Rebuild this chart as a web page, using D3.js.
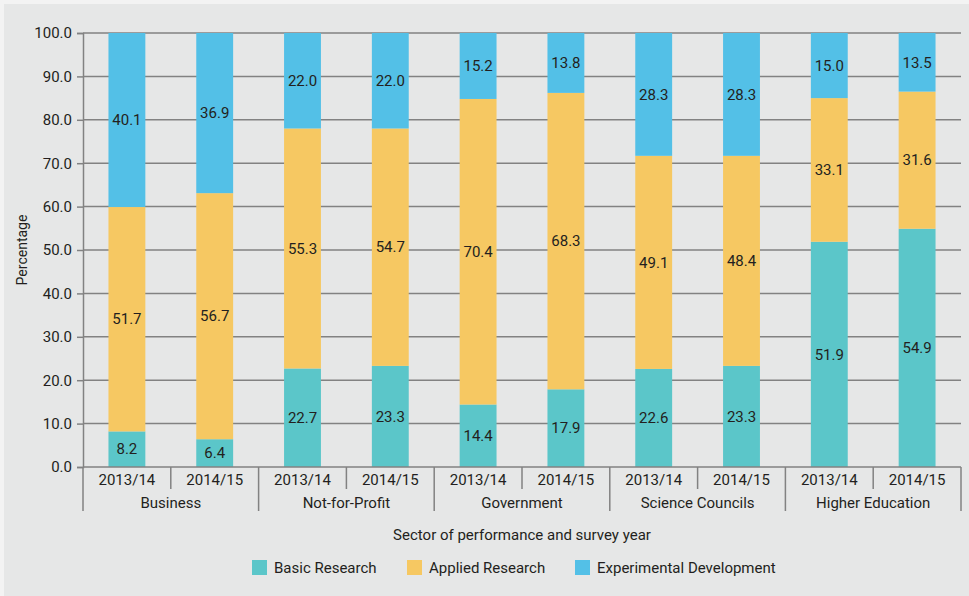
<!DOCTYPE html>
<html>
<head>
<meta charset="utf-8">
<script src="https://cdn.jsdelivr.net/npm/d3@7"></script>
<style>
  body { margin: 0; background: #f3f3f3; }
  text { font-family: Roboto, "Liberation Sans", sans-serif; fill: #231f20; }
</style>
</head>
<body>
<svg id="chart" width="969" height="596"></svg>
<script>
// chart values
var sectors = ["Business", "Not-for-Profit", "Government", "Science Councils", "Higher Education"];
var years = ["2013/14", "2014/15"];
var basicResearch = [8.2, 6.4, 22.7, 23.3, 14.4, 17.9, 22.6, 23.3, 51.9, 54.9];
var appliedResearch = [51.7, 56.7, 55.3, 54.7, 70.4, 68.3, 49.1, 48.4, 33.1, 31.6];
var experimentalDev = [40.1, 36.9, 22.0, 22.0, 15.2, 13.8, 28.3, 28.3, 15.0, 13.5];
var yTicks = [0, 10, 20, 30, 40, 50, 60, 70, 80, 90, 100];
var seriesNames = ["Basic Research", "Applied Research", "Experimental Development"];
var colors = ["#5bc6c9", "#f6c862", "#53c0e7"];

var svg = d3.select("#chart");
var margin = {left: 83, right: 8, top: 33, bottom: 129};
var width = 969 - margin.left - margin.right;
var height = 596 - margin.top - margin.bottom;
var fontSize = "15px";

// grey panel behind the chart
svg.append("rect").attr("x", 4).attr("y", 4).attr("width", 965).attr("height", 592).attr("fill", "#e6e7e7");

var g = svg.append("g").attr("transform", "translate(" + margin.left + "," + margin.top + ")");

// one row per bar
var rows = [];
sectors.forEach(function(s, i) {
    years.forEach(function(yr, j) {
        var k = i * years.length + j;
        rows.push({key: s + "|" + yr, sector: s, year: yr,
            basic: basicResearch[k], applied: appliedResearch[k], exp: experimentalDev[k]});
    });
});

var x = d3.scaleBand()
    .domain(rows.map(function(d) { return d.key; }))
    .range([0, width])
    .paddingInner(0.58)
    .paddingOuter(0.29);

var y = d3.scaleLinear().domain([0, 100]).range([height, 0]);

// gridlines
g.append("g").selectAll("line")
    .data(yTicks.filter(function(t) { return t > 0; }))
    .enter().append("line")
    .attr("x1", 0).attr("x2", width)
    .attr("y1", function(d) { return y(d); }).attr("y2", function(d) { return y(d); })
    .style("stroke", "#828282").style("stroke-width", 1.5);

// y axis
var yAxis = g.append("g")
    .call(d3.axisLeft(y).tickValues(yTicks).tickFormat(d3.format(".1f")).tickSize(6).tickPadding(5));
yAxis.attr("font-family", null).attr("font-size", null);
yAxis.select(".domain").style("stroke", "#828282").style("stroke-width", 1.5);
yAxis.selectAll(".tick line").style("stroke", "#828282").style("stroke-width", 1.5);
yAxis.selectAll("text").style("font-size", fontSize).style("fill", "#231f20");

// stacked bars
var stack = d3.stack().keys(["basic", "applied", "exp"]);
var layers = stack(rows);

var layerG = g.selectAll(".layer")
    .data(layers)
    .enter().append("g")
    .attr("class", "layer")
    .style("fill", function(d, i) { return colors[i]; });

layerG.selectAll("rect")
    .data(function(d) { return d; })
    .enter().append("rect")
    .attr("x", function(d) { return x(d.data.key); })
    .attr("width", x.bandwidth())
    .attr("y", function(d) { return y(d[1]); })
    .attr("height", function(d) { return y(d[0]) - y(d[1]); });

// value labels in the middle of each segment
layers.forEach(function(layer) {
    g.append("g").selectAll("text")
        .data(layer)
        .enter().append("text")
        .attr("x", function(d) { return x(d.data.key) + x.bandwidth() / 2; })
        .attr("y", function(d) { return y((d[0] + d[1]) / 2); })
        .attr("dy", "0.35em")
        .attr("text-anchor", "middle")
        .style("font-size", fontSize)
        .text(function(d) { return (d[1] - d[0]).toFixed(1); });
});

// x axis line
g.append("line")
    .attr("x1", 0).attr("x2", width).attr("y1", height).attr("y2", height)
    .style("stroke", "#828282").style("stroke-width", 1.5);

// category separators: short between years, long between sectors
var step = x.step();
var seps = d3.range(rows.length + 1);
g.append("g").selectAll("line")
    .data(seps)
    .enter().append("line")
    .attr("x1", function(d) { return d * step; })
    .attr("x2", function(d) { return d * step; })
    .attr("y1", height)
    .attr("y2", function(d) { return d % years.length === 0 ? height + 44 : height + 22; })
    .style("stroke", "#828282").style("stroke-width", 1.5);

// year labels
g.append("g").selectAll("text")
    .data(rows)
    .enter().append("text")
    .attr("x", function(d) { return x(d.key) + x.bandwidth() / 2; })
    .attr("y", height + 18)
    .attr("text-anchor", "middle")
    .style("font-size", fontSize)
    .text(function(d) { return d.year; });

// sector labels
g.append("g").selectAll("text")
    .data(sectors)
    .enter().append("text")
    .attr("x", function(d, i) { return (i * years.length + years.length / 2) * step; })
    .attr("y", height + 41)
    .attr("text-anchor", "middle")
    .style("font-size", fontSize)
    .text(function(d) { return d; });

// axis titles
svg.append("text")
    .attr("x", margin.left + width / 2)
    .attr("y", 540)
    .attr("text-anchor", "middle")
    .style("font-size", fontSize)
    .text("Sector of performance and survey year");

svg.append("text")
    .attr("transform", "translate(27," + (margin.top + height / 2) + ") rotate(-90)")
    .attr("text-anchor", "middle")
    .style("font-size", "14px")
    .text("Percentage");

// legend
var legendX = [252, 407, 575];
var legend = svg.append("g").selectAll("g")
    .data(seriesNames)
    .enter().append("g")
    .attr("transform", function(d, i) { return "translate(" + legendX[i] + ",560)"; });
legend.append("rect").attr("width", 15).attr("height", 15)
    .style("fill", function(d, i) { return colors[i]; });
legend.append("text").attr("x", 22).attr("y", 13)
    .style("font-size", fontSize)
    .text(function(d) { return d; });
</script>
</body>
</html>
